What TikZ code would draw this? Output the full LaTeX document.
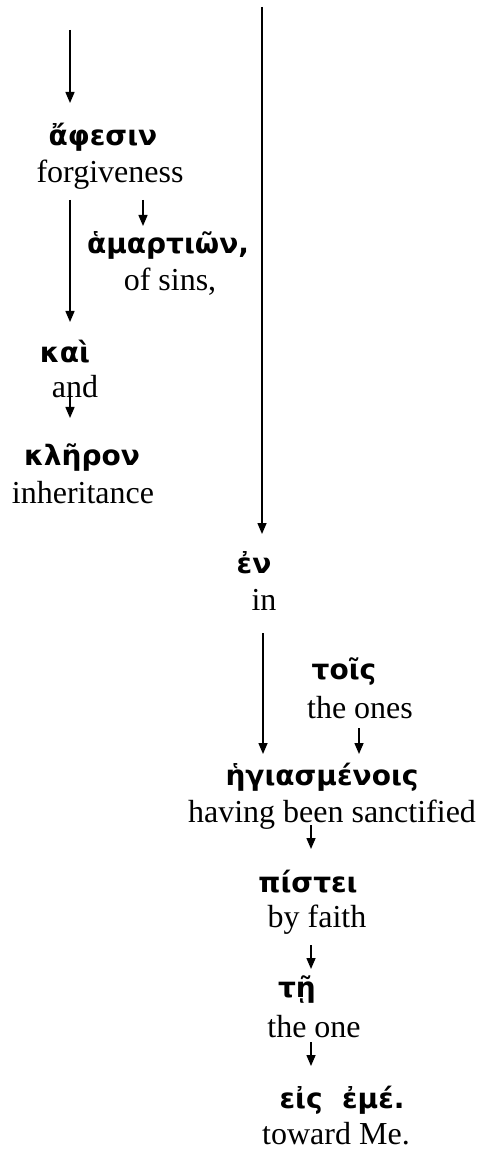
\documentclass[tikz,border=0pt]{standalone}
\usepackage{fontspec}
\setmainfont{Liberation Serif}
\newfontfamily\grk{DejaVu Sans}
\usetikzlibrary{arrows.meta}
\tikzset{
  gk/.style={font=\grk\bfseries\fontsize{14}{16}\selectfont, inner sep=0pt},
  en/.style={font=\fontsize{16}{19}\selectfont, inner sep=0pt},
  arr/.style={line width=0.75pt, -{Triangle[length=5.5pt,width=4.5pt]}},
}
\begin{document}
\begin{tikzpicture}[x=0.5pt,y=-0.5pt]
\useasboundingbox (0,0) rectangle (477,1149);
% left column
\node[gk] (g1) at (103,137) {ἄφεσιν};
\node[en] (e1) at (110,175) {forgiveness};
\node[gk] (g2) at (168,245) {ἁμαρτιῶν,};
\node[en] (e2) at (170,282) {of sins,};
\node[gk] (g3) at (65,352) {καὶ};
\node[en] (e3) at (75,387) {and};
\node[gk] (g4) at (82,458) {κλῆρον};
\node[en] (e4) at (83,493) {inheritance};
% right column
\node[gk] (g5) at (254,563) {ἐν};
\node[en] (e5) at (264,600) {in};
\node[gk] (g6) at (344,672) {τοῖς};
\node[en] (e6) at (360,708) {the ones};
\node[gk] (g7) at (322,777) {ἡγιασμένοις};
\node[en] (e7) at (332,815) {having been sanctified};
\node[gk] (g8) at (308,882) {πίστει};
\node[en] (e8) at (317,920) {by faith};
\node[gk] (g9) at (297,990) {τῇ};
\node[en] (e9) at (314,1027) {the one};
\node[gk] (g10) at (342,1100) {εἰς\ \ ἐμέ.};
\node[en] (e10) at (336,1134) {toward Me.};
% connector end points
\coordinate (a1s) at (70,30);   \coordinate (a1e) at (70,103);
\coordinate (a2s) at (70,200);  \coordinate (a2e) at (70,322);
\coordinate (a3s) at (143,200); \coordinate (a3e) at (143,226);
\coordinate (a4s) at (70,395);  \coordinate (a4e) at (70,418);
\coordinate (a5s) at (262,7);   \coordinate (a5e) at (262,534);
\coordinate (a6s) at (263,633); \coordinate (a6e) at (263,754);
\coordinate (a7s) at (359,728); \coordinate (a7e) at (359,754);
\coordinate (a8s) at (311,825); \coordinate (a8e) at (311,849);
\coordinate (a9s) at (311,945); \coordinate (a9e) at (311,969);
\coordinate (a10s) at (311,1042); \coordinate (a10e) at (311,1066);
\foreach \i in {1,...,10} \draw[arr] (a\i s) -- (a\i e);
\end{tikzpicture}
\end{document}
